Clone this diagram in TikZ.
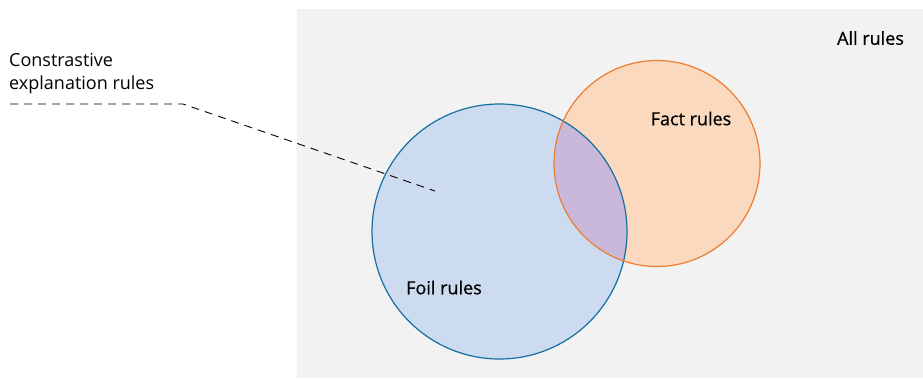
\documentclass[tikz,border=0pt]{standalone}
\usepackage{fontspec}
\setmainfont{Open Sans}
\newfontfamily\medio[FakeBold=0.6]{Open Sans}
\definecolor{fondo}{RGB}{242,242,242}
\definecolor{foilfill}{RGB}{204,219,240}
\definecolor{foilline}{RGB}{20,110,160}
\definecolor{factfill}{RGB}{251,217,190}
\definecolor{factline}{RGB}{237,125,49}
\definecolor{mezcla}{RGB}{202,184,218}
\begin{document}
\begin{tikzpicture}[x=1pt, y=-1pt,
  conjunto/.style={circle, inner sep=0pt, line width=1.2pt},
  etiqueta/.style={font=\medio\fontsize{18}{22}\selectfont, text=black, inner sep=0pt},
  guia/.style={dashed, dash pattern=on 8pt off 6pt, line width=0.9pt}]
  \useasboundingbox (0,0) rectangle (923,378);
  \fill[fondo] (297,9) rectangle (923,378);
  \node[conjunto, fill=foilfill, minimum size=255pt] (foil) at (499.5,231.5) {};
  \node[conjunto, fill=factfill, minimum size=206pt] (fact) at (657,163.5) {};
  \begin{scope}
    \clip (foil.center) circle (127.5);
    \fill[mezcla] (fact.center) circle (103);
  \end{scope}
  \draw[foilline, line width=1.2pt] (foil.center) circle (127.5);
  \draw[factline, line width=1.2pt] (fact.center) circle (103);
  \node[etiqueta] (todas) at (870.5,38) {All rules};
  \node[etiqueta] (hechos) at (691,118.5) {Fact rules};
  \node[etiqueta] (folio) at (444,287.5) {Foil rules};
  \node[etiqueta, align=left, anchor=north west, font=\fontsize{18}{23.5}\selectfont] (contraste) at (9,53) {Constrastive\\explanation rules};
  \coordinate (inicio) at (10,104);
  \coordinate (codo) at (183,104);
  \coordinate (punta) at (435,191);
  \draw[guia] (inicio) -- (codo) -- (punta);
\end{tikzpicture}
\end{document}
